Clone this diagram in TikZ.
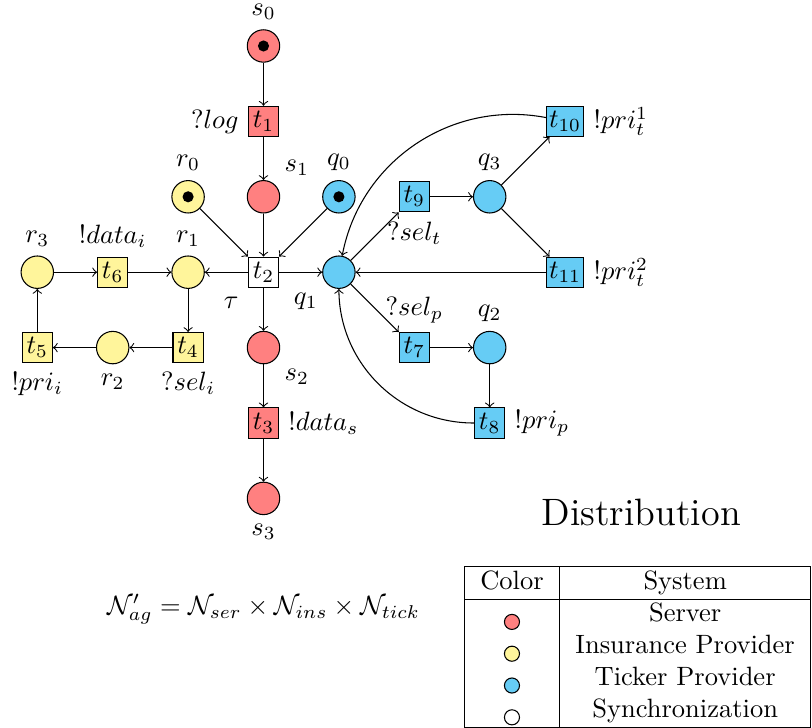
\documentclass[tikz,border=0pt]{standalone}
\usepackage{amsmath}
\usetikzlibrary{positioning}
\definecolor{serred}{RGB}{255,128,128}
\definecolor{insyellow}{RGB}{255,245,155}
\definecolor{tickblue}{RGB}{102,204,245}

\begin{document}
\begin{tikzpicture}[
  on grid, node distance=1cm and 1cm,
  place/.style={circle, draw, minimum size=0.43cm, inner sep=0pt},
  trans/.style={rectangle, draw, minimum size=0.4cm, inner sep=1pt},
  marked/.style={label={[circle, fill=black, inner sep=0pt, minimum size=4.2pt]center:{}}},
  legdot/.style={circle, draw, anchor=center, minimum size=0.2cm, inner sep=0pt, outer sep=0pt}
]
  \useasboundingbox (-3.4946,-6.045) rectangle (7.2744,3.61);

  % synchronization
  \node[trans, fill=white, label=below left:$\tau$] (t2) at (0,0) {$t_2$};

  % server
  \node[place, fill=serred, above=of t2, label=above right:$s_1$] (s1) {};
  \node[trans, fill=serred, above=of s1, label=left:$?log$] (t1) {$t_1$};
  \node[place, fill=serred, marked, above=of t1, label=above:$s_0$] (s0) {};
  \node[place, fill=serred, below=of t2, label=below right:$s_2$] (s2) {};
  \node[trans, fill=serred, below=of s2, label=right:$!data_s$] (t3) {$t_3$};
  \node[place, fill=serred, below=of t3, label=below:$s_3$] (s3) {};

  % insurance provider
  \node[place, fill=insyellow, marked, above left=of t2, label=above:$r_0$] (r0) {};
  \node[place, fill=insyellow, left=of t2, label=above:$r_1$] (r1) {};
  \node[trans, fill=insyellow, left=of r1, label=above:$!data_i$] (t6) {$t_6$};
  \node[place, fill=insyellow, left=of t6, label=above:$r_3$] (r3) {};
  \node[trans, fill=insyellow, below=of r1, label=below:$?sel_i$] (t4) {$t_4$};
  \node[place, fill=insyellow, left=of t4, label=below:$r_2$] (r2) {};
  \node[trans, fill=insyellow, left=of r2, label=below:$!pri_i$] (t5) {$t_5$};

  % ticker provider
  \node[place, fill=tickblue, marked, above right=of t2, label=above:$q_0$] (q0) {};
  \node[place, fill=tickblue, right=of t2, label=below left:$q_1$] (q1) {};
  \node[trans, fill=tickblue, above right=of q1, label=below:$?sel_t$] (t9) {$t_9$};
  \node[place, fill=tickblue, right=of t9, label=above:$q_3$] (q3) {};
  \node[trans, fill=tickblue, above right=of q3, label=right:$!pri_t^1$] (t10) {$t_{10}$};
  \node[trans, fill=tickblue, below right=of q3, label=right:$!pri_t^2$] (t11) {$t_{11}$};
  \node[trans, fill=tickblue, below right=of q1, label=above:$?sel_p$] (t7) {$t_7$};
  \node[place, fill=tickblue, right=of t7, label=above:$q_2$] (q2) {};
  \node[trans, fill=tickblue, below=of q2, label=right:$!pri_p$] (t8) {$t_8$};

  \draw[->] (s0) -- (t1);
  \draw[->] (t1) -- (s1);
  \draw[->] (s1) -- (t2);
  \draw[->] (r0) -- (t2);
  \draw[->] (q0) -- (t2);
  \draw[->] (t2) -- (r1);
  \draw[->] (t2) -- (q1);
  \draw[->] (t2) -- (s2);
  \draw[->] (s2) -- (t3);
  \draw[->] (t3) -- (s3);

  \draw[->] (r3) -- (t6);
  \draw[->] (t6) -- (r1);
  \draw[->] (r1) -- (t4);
  \draw[->] (t4) -- (r2);
  \draw[->] (r2) -- (t5);
  \draw[->] (t5) -- (r3);

  \draw[->] (q1) -- (t9);
  \draw[->] (t9) -- (q3);
  \draw[->] (q3) -- (t10);
  \draw[->] (q3) -- (t11);
  \draw[->] (t11) -- (q1);
  \draw[->] (t10) to[bend right=45] (q1);
  \draw[->] (q1) -- (t7);
  \draw[->] (t7) -- (q2);
  \draw[->] (q2) -- (t8);
  \draw[->] (t8) to[bend left=45] (q1);

  % formula, title and legend
  \node (formula) at (0,-4.47) {$\mathcal{N}'_{ag} = \mathcal{N}_{ser} \times \mathcal{N}_{ins} \times \mathcal{N}_{tick}$};
  \node[font=\Large] (title) at (5.01,-3.18) {Distribution};
  \node[anchor=north east, inner sep=0pt] (legend) at (7.265,-3.886) {%
    \begin{tabular}{|c|c|}
      \hline
      Color & System \\
      \hline
      \tikz[baseline]\node[legdot, fill=serred] (dotser) {}; & Server \\
      \tikz[baseline]\node[legdot, fill=insyellow] (dotins) {}; & Insurance Provider \\
      \tikz[baseline]\node[legdot, fill=tickblue] (dottick) {}; & Ticker Provider \\
      \tikz[baseline]\node[legdot, fill=white] (dotsync) {}; & Synchronization \\
      \hline
    \end{tabular}};
\end{tikzpicture}
\end{document}
